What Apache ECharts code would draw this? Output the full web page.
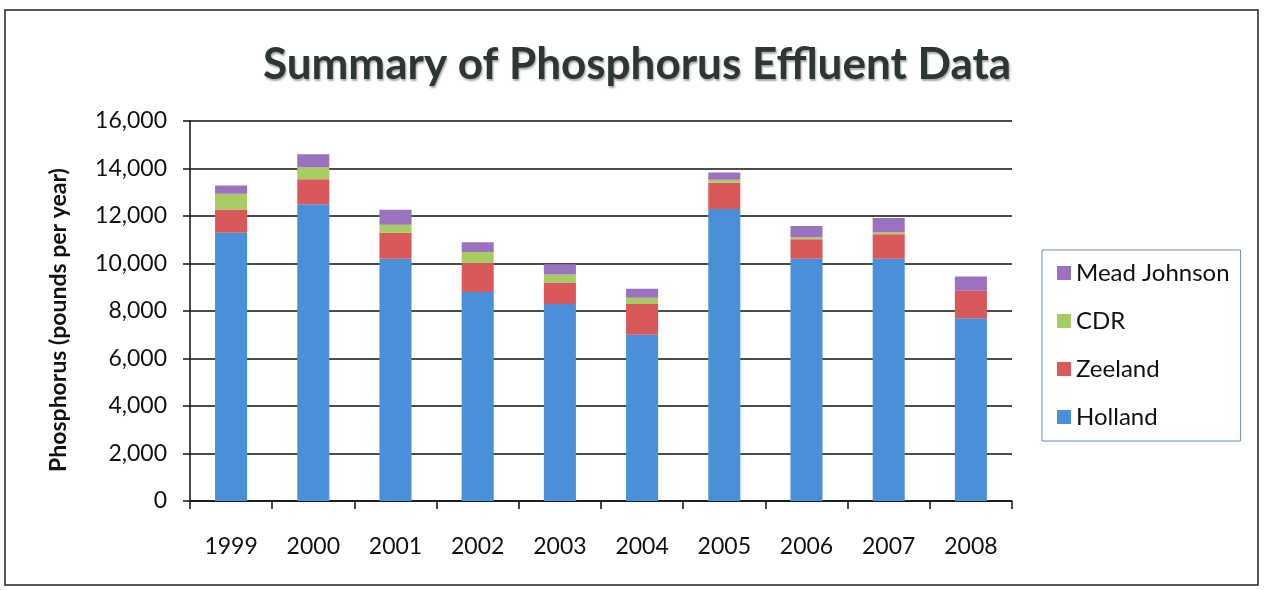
<!DOCTYPE html>
<html lang="en">
<head>
    <meta charset="UTF-8">
    <title>Summary of Phosphorus Effluent Data</title>
    <script src="https://cdn.jsdelivr.net/npm/echarts@6/dist/echarts.min.js"></script>
    <style>
        html, body{
            margin: 0;
            padding: 0;
            background: #ffffff;
        }
        #chart{
            width: 1264px;
            height: 590px;
        }
    </style>
</head>
<body>
    <div id="chart"></div>
<script>
    // data (pounds per year)
    var years = ['1999','2000','2001','2002','2003','2004','2005','2006','2007','2008'];
    var holland = [11300, 12500, 10200, 8800, 8300, 7000, 12300, 10200, 10200, 7700];
    var zeeland = [970, 1050, 1090, 1220, 900, 1300, 1100, 820, 1030, 1150];
    var cdr = [670, 500, 340, 460, 340, 260, 130, 90, 90, 0];
    var meadJohnson = [340, 550, 630, 420, 430, 380, 300, 470, 600, 600];

    var font = 'Lato, "Open Sans", sans-serif';
    var chart = echarts.init(document.getElementById('chart'));

    function bar(name, data, color){
        return {
            name: name,
            type: 'bar',
            stack: 'total',
            barWidth: '39%',
            data: data,
            itemStyle: { color: color }
        };
    }

    chart.setOption({
        animation: false,
        textStyle: { fontFamily: font },
        title: {
            text: 'Summary of Phosphorus Effluent Data',
            left: 632,
            textAlign: 'center',
            top: 38,
            textStyle: {
                fontFamily: font,
                fontSize: 44,
                fontWeight: 'bold',
                color: '#2e3632',
                textShadowColor: 'rgba(0,0,0,0.35)',
                textShadowBlur: 2,
                textShadowOffsetX: 1,
                textShadowOffsetY: 2
            }
        },
        graphic: [{
            type: 'rect',
            shape: { x: 5, y: 10, width: 1253, height: 575 },
            style: { fill: 'none', stroke: '#222', lineWidth: 1.5 },
            silent: true
        }],
        legend: {
            orient: 'vertical',
            left: 1042,
            top: 250,
            data: ['Mead Johnson', 'CDR', 'Zeeland', 'Holland'],
            itemWidth: 14,
            itemHeight: 14,
            itemGap: 24,
            icon: 'rect',
            padding: [11, 11, 12, 15],
            borderColor: '#6a8cc8',
            borderWidth: 1,
            textStyle: { fontFamily: font, fontSize: 24, color: '#111', lineHeight: 24 }
        },
        grid: {
            left: 190,
            right: 252,
            top: 121,
            bottom: 89
        },
        xAxis: {
            type: 'category',
            data: years,
            axisLine: { lineStyle: { color: '#111', width: 1.5 } },
            axisTick: { show: true, length: 8, lineStyle: { color: '#111', width: 1.5 } },
            axisLabel: { fontFamily: font, fontSize: 23, color: '#111', margin: 34 }
        },
        yAxis: {
            type: 'value',
            min: 0,
            max: 16000,
            interval: 2000,
            name: 'Phosphorus (pounds per year)',
            nameLocation: 'middle',
            nameGap: 120,
            nameTextStyle: {
                fontFamily: font,
                fontSize: 23,
                fontWeight: 'bold',
                color: '#111',
                padding: [0, 18, 0, 0]
            },
            axisLine: { show: true, lineStyle: { color: '#111', width: 1.5 } },
            axisTick: { show: true, length: 7, lineStyle: { color: '#111', width: 1.5 } },
            axisLabel: {
                fontFamily: font,
                fontSize: 23,
                color: '#111',
                margin: 23,
                formatter: function(v){ return v.toLocaleString('en-US'); }
            },
            splitLine: { lineStyle: { color: '#111', width: 1.5 } }
        },
        series: [
            bar('Holland', holland, '#4a90d9'),
            bar('Zeeland', zeeland, '#d9595a'),
            bar('CDR', cdr, '#a6cc62'),
            bar('Mead Johnson', meadJohnson, '#9a72bf')
        ]
    });
</script>
</body>
</html>
